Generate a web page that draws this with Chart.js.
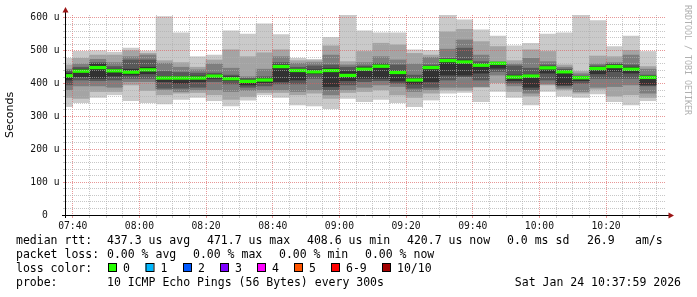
<!DOCTYPE html>
<html>
<head>
<meta charset="utf-8">
<script src="https://cdn.jsdelivr.net/npm/chart.js@4.4.1/dist/chart.umd.min.js"></script>
<style>
html, body { margin: 0; padding: 0; background: #fff; }
canvas { display: block; }
</style>
</head>
<body>
<canvas id="rtt" width="697" height="297"></canvas>
<script>
// 5 minute slots (start time), the first one is cut by the left edge
const slots = ['07:35','07:40','07:45','07:50','07:55','08:00','08:05','08:10','08:15','08:20','08:25','08:30',
               '08:35','08:40','08:45','08:50','08:55','09:00','09:05','09:10','09:15','09:20','09:25','09:30',
               '09:35','09:40','09:45','09:50','09:55','10:00','10:05','10:10','10:15','10:20','10:25','10:30'];

// sorted pings per slot, in us (ping1 = fastest, ping10 = slowest)
const ping1  = [330,342,358,366,348,342,338,352,358,348,332,350,366,358,335,332,324,355,345,352,342,330,350,371,373,345,376,358,335,376,362,358,369,345,335,348];
const ping2  = [358,355,376,376,396,379,366,371,373,366,352,360,373,373,366,371,355,373,376,381,366,358,371,381,379,389,403,376,362,396,381,371,383,362,366,358];
const ping3  = [381,393,393,389,406,406,381,376,381,381,376,379,381,381,376,381,366,381,389,396,391,376,381,389,389,391,426,393,371,399,386,376,389,391,396,371];
const ping4  = [396,411,409,411,416,416,386,386,389,406,399,389,393,399,399,416,381,396,406,409,401,386,389,411,421,411,437,401,381,411,393,401,416,416,416,393];
const ping5  = [411,421,416,423,426,430,406,401,406,416,409,396,403,406,411,430,391,409,416,416,408,399,406,426,426,432,447,409,389,432,396,409,430,437,432,396];
const ping6  = [432,444,460,444,444,450,421,421,423,427,421,411,416,457,444,442,447,437,450,457,439,416,452,472,472,460,462,426,426,450,434,421,450,457,450,423];
const ping7  = [439,450,464,452,472,472,437,434,432,432,426,416,421,464,450,454,457,450,454,462,457,426,457,477,508,467,464,454,447,457,444,423,454,460,457,426];
const ping8  = [444,460,474,464,482,487,462,450,442,460,447,421,444,482,462,464,487,457,464,482,472,460,480,505,533,487,467,460,477,467,450,430,460,464,487,444];
const ping9  = [457,477,487,487,500,492,470,464,450,472,503,482,494,503,470,470,515,467,498,523,518,492,487,558,565,528,513,470,503,498,457,437,484,482,501,452];
const ping10 = [477,498,500,496,508,499,604,555,482,487,561,551,582,549,477,474,541,609,561,555,555,503,501,609,594,564,545,515,523,551,555,609,592,513,545,498];
const median = [424,438,449,439,435,442,417,417,417,423,415,407,411,452,440,436,440,425,444,453,434,411,449,470,466,456,462,420,423,448,436,418,446,452,444,419];
const loss   = [0,0,0,0,0,0,0,0,0,0,0,0,0,0,0,0,0,0,0,0,0,0,0,0,0,0,0,0,0,0,0,0,0,0,0,0];

const xTickLabels = ['07:40','08:00','08:20','08:40','09:00','09:20','09:40','10:00','10:20'];
const yTickLabels = ['0','100 u','200 u','300 u','400 u','500 u','600 u'];
const endTime = '10:37:59';

const statRtt  = ['437.3 us avg','471.7 us max','408.6 us min','420.7 us now','0.0 ms sd','26.9','am/s'];
const statLoss = ['0.00 % avg','0.00 % max','0.00 % min','0.00 % now'];
const lossLabels = ['0','1','2','3','4','5','6-9','10/10'];
const lossColors = ['#26ff00','#00b8ff','#0059ff','#7e00ff','#ff00ff','#ff5500','#ff0000','#a10000'];
const probeText = '10 ICMP Echo Pings (56 Bytes) every 300s';
const stampText = 'Sat Jan 24 10:37:59 2026';

function toMin(s) {
    const p = s.split(':').map(Number);
    return p[0] * 60 + p[1] + (p[2] || 0) / 60;
}
function fmt(m) {
    const h = Math.floor(m / 60), mm = Math.round(m % 60);
    return String(h).padStart(2, '0') + ':' + String(mm).padStart(2, '0');
}

const viewEnd = toMin(endTime);
const viewStart = viewEnd - 180;
const xGrid = [];
for (let m = Math.ceil(viewStart / 5) * 5; m <= viewEnd; m += 5) xGrid.push(m);
const yGrid = [];
for (let v = 0; v <= 600; v += 20) yGrid.push(v);

const pings = [ping1, ping2, ping3, ping4, ping5, ping6, ping7, ping8, ping9, ping10];
const grays = ['#cacaca', '#a4a4a4', '#7e7e7e', '#585858', '#323232'];

let datasets = grays.map((c, i) => ({
    data: slots.map((s, k) => ({x: toMin(s) + 2.5, y: [pings[i][k], pings[9 - i][k]]})),
    backgroundColor: c,
    order: 10 - i
}));
datasets.push({
    data: slots.map((s, k) => ({x: toMin(s) + 2.5, y: [median[k] - 4, median[k] + 4]})),
    backgroundColor: loss.map(l => lossColors[Math.min(l, 7)]),
    order: 0
});

const minorGrid = 'rgba(175,175,175,0.7)';
const majorGrid = 'rgba(220,95,95,0.65)';
const tickFont = {family: 'DejaVu Sans Mono', size: 9.7};

/*========================================
 * axes, arrows, watermark and legend
 *========================================*/
const decor = {
    id: 'decor',
    afterDraw(chart) {
        const ctx = chart.ctx, a = chart.chartArea;
        ctx.save();
        ctx.strokeStyle = '#000';
        ctx.lineWidth = 1;
        ctx.beginPath();
        ctx.moveTo(a.left - 4, a.bottom + 0.5);
        ctx.lineTo(a.right + 3, a.bottom + 0.5);
        ctx.moveTo(a.left - 0.5, a.bottom + 3);
        ctx.lineTo(a.left - 0.5, a.top - 3);
        ctx.stroke();

        ctx.fillStyle = '#9b1515';
        ctx.beginPath();
        ctx.moveTo(a.left - 0.5, a.top - 8);
        ctx.lineTo(a.left - 3.5, a.top - 2.5);
        ctx.lineTo(a.left + 2.5, a.top - 2.5);
        ctx.fill();
        ctx.beginPath();
        ctx.moveTo(a.right + 8, a.bottom + 0.5);
        ctx.lineTo(a.right + 2.5, a.bottom - 2.5);
        ctx.lineTo(a.right + 2.5, a.bottom + 3.5);
        ctx.fill();

        // watermark
        ctx.save();
        ctx.translate(685, 5);
        ctx.rotate(Math.PI / 2);
        ctx.font = '8.3px "DejaVu Sans Mono"';
        ctx.fillStyle = '#b0b0b0';
        ctx.textAlign = 'left';
        ctx.textBaseline = 'alphabetic';
        ctx.fillText('RRDTOOL / TOBI OETIKER', 0, 0);
        ctx.restore();

        // legend
        ctx.font = '11.5px "DejaVu Sans Mono"';
        ctx.fillStyle = '#000';
        ctx.textAlign = 'left';
        ctx.textBaseline = 'middle';
        ctx.fillText('median rtt:', 16, 241);
        const rx = [107, 207, 307, 407, 507, 587, 635];
        statRtt.forEach((t, i) => ctx.fillText(t, rx[i], 241));

        ctx.fillText('packet loss:', 16, 255);
        const lx = [107, 193, 279, 365];
        statLoss.forEach((t, i) => ctx.fillText(t, lx[i], 255));

        ctx.fillText('loss color:', 16, 269);
        const bx = [108, 145.5, 183, 220, 257, 294, 331, 382];
        lossLabels.forEach((t, i) => {
            ctx.fillStyle = lossColors[i];
            ctx.fillRect(bx[i], 263, 8, 8);
            ctx.strokeStyle = '#000';
            ctx.strokeRect(bx[i] + 0.5, 263.5, 8, 8);
            ctx.fillStyle = '#000';
            ctx.fillText(t, bx[i] + 15, 269);
        });

        ctx.fillText('probe:', 16, 283);
        ctx.fillText(probeText, 107, 283);
        ctx.textAlign = 'right';
        ctx.fillText(stampText, 681, 283);
        ctx.restore();
    }
};

const ctx = document.getElementById('rtt').getContext('2d');

let graph = new Chart(ctx, {
    type: 'bar',
    data: {datasets: datasets},
    plugins: [decor],
    options: {
        responsive: false,
        animation: false,
        layout: {padding: {top: 15, right: 31, left: 0, bottom: 0}},
        plugins: {legend: {display: false}, tooltip: {enabled: false}},
        datasets: {bar: {barPercentage: 1, categoryPercentage: 1, grouped: false, borderWidth: 0}},
        scales: {
            x: {
                type: 'linear',
                offset: false,
                min: viewStart,
                max: viewEnd,
                afterFit: s => { s.height = 82; },
                afterBuildTicks: s => { s.ticks = xGrid.map(v => ({value: v})); },
                grid: {
                    z: 1,
                    offset: false,
                    tickLength: 3,
                    color: c => (c.tick && xTickLabels.includes(fmt(c.tick.value))) ? majorGrid : minorGrid
                },
                border: {display: false, dash: [1, 1]},
                ticks: {
                    autoSkip: false,
                    maxRotation: 0,
                    padding: 2.5,
                    font: tickFont,
                    color: '#111',
                    callback: v => xTickLabels.includes(fmt(v)) ? fmt(v) : ''
                }
            },
            y: {
                min: 0,
                max: 609,
                afterFit: s => { s.width = 66; },
                afterBuildTicks: s => { s.ticks = yGrid.map(v => ({value: v})); },
                grid: {
                    z: 1,
                    tickLength: 3,
                    color: c => (c.tick && c.tick.value % 100 === 0) ? majorGrid : minorGrid
                },
                border: {display: false, dash: [1, 1]},
                title: {
                    display: true,
                    text: 'Seconds',
                    color: '#000',
                    font: {family: 'DejaVu Sans', size: 11},
                    padding: {top: 4, bottom: 0}
                },
                ticks: {
                    autoSkip: false,
                    padding: 3.5,
                    font: tickFont,
                    color: '#111',
                    callback: v => {
                        if (v % 100 !== 0) return '';
                        const t = yTickLabels[v / 100];
                        return t === '0' ? '0  ' : t;
                    }
                }
            }
        }
    }
});
</script>
</body>
</html>
